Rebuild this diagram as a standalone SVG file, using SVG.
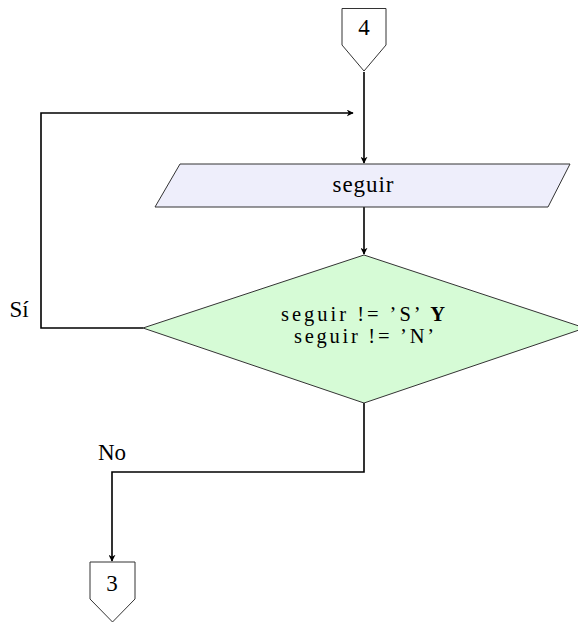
<svg xmlns="http://www.w3.org/2000/svg" width="578" height="623" viewBox="0 0 578 623">
<defs>
<style>
.t{font-family:"Liberation Serif","DejaVu Serif",serif;font-size:23px;fill:#000;text-anchor:middle}
.d{font-size:20.5px}
.shape{stroke:#333;stroke-width:1}
.conn{fill:none;stroke:#000;stroke-width:1.6}
</style>
<marker id="ah" viewBox="0 0 10 10" refX="9" refY="5" markerWidth="7" markerHeight="7" markerUnits="userSpaceOnUse" orient="auto">
<path d="M0,0 L10,5 L0,10 L3,5 Z" fill="#000"/>
</marker>
</defs>
<rect width="578" height="623" fill="#fff"/>
<g id="connectors">
<path class="conn" d="M364,72 L364,163" marker-end="url(#ah)"/>
<path class="conn" d="M143,328 L41,328 L41,113 L353,113" marker-end="url(#ah)"/>
<path class="conn" d="M364,207 L364,254" marker-end="url(#ah)"/>
<path class="conn" d="M364,403 L364,472 L112,472 L112,561" marker-end="url(#ah)"/>
</g>
<g id="node-4">
<path class="shape" fill="#fff" d="M342,8.5 L386,8.5 L386,45 L364,71 L342,45 Z"/>
<text class="t" x="364" y="35">4</text>
</g>
<g id="node-seguir">
<path class="shape" fill="#eeeefb" d="M180,164 L570,164 L548,207 L155,207 Z"/>
<text class="t" x="363" y="192" textLength="61" lengthAdjust="spacing">seguir</text>
</g>
<g id="node-cond">
<path class="shape" fill="#d6fbd6" d="M364,255 L585,328 L364,403 L143,328 Z"/>
<text class="t d" x="363" y="321" textLength="164" lengthAdjust="spacing">seguir != ’S’ <tspan font-weight="bold">Y</tspan></text>
<text class="t d" x="364" y="343" textLength="140" lengthAdjust="spacing">seguir != ’N’</text>
</g>
<g id="node-3">
<path class="shape" fill="#fff" d="M90,562 L135,562 L135,599 L112.5,622 L90,599 Z"/>
<text class="t" x="112" y="591">3</text>
</g>
<g id="labels">
<text class="t" x="19" y="317">Sí</text>
<text class="t" x="112" y="460">No</text>
</g>
</svg>
